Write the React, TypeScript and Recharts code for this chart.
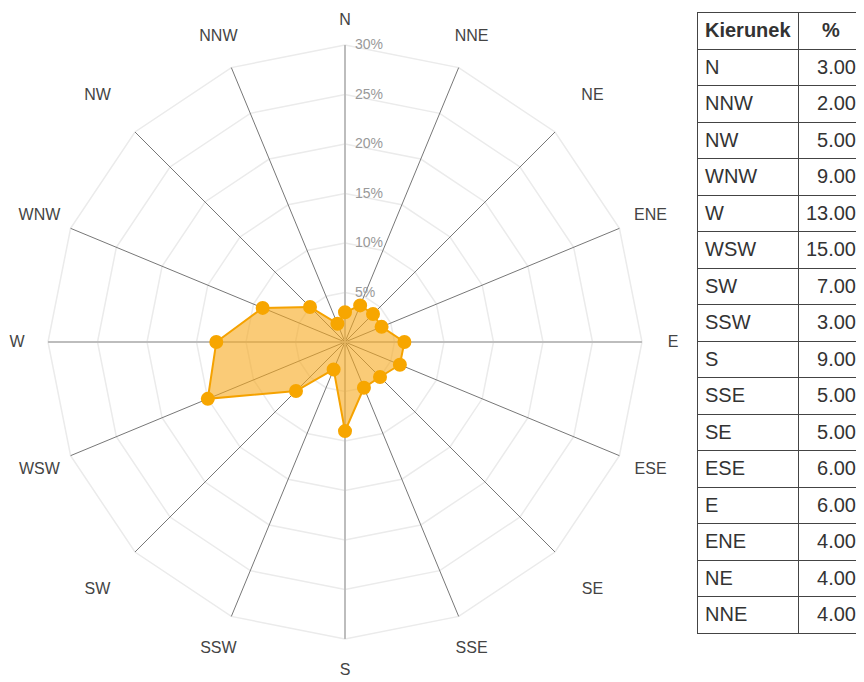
import { RadarChart, Radar, PolarGrid, PolarAngleAxis, PolarRadiusAxis } from 'recharts'

// wind directions, clockwise from north (chart order)
const directions = ['N', 'NNE', 'NE', 'ENE', 'E', 'ESE', 'SE', 'SSE', 'S', 'SSW', 'SW', 'WSW', 'W', 'WNW', 'NW', 'NNW']
const frequency = [3, 4, 4, 4, 6, 6, 5, 5, 9, 3, 7, 15, 13, 9, 5, 2]
const radiusDomain = [0, 30]

const chartData = directions.map((dir, i) => ({ dir, value: frequency[i] }))

// table lists N first, then counter-clockwise
const tableRows = [chartData[0], ...chartData.slice(1).reverse()]

const CX = 337
const CY = 334
const OUTER = 297
const FONT = 'Arial, "Liberation Sans", sans-serif'

const step = 360 / directions.length
const cardinalAngles = directions.map((_, i) => 90 - i * step).filter((_, i) => i % 4 === 0)
const otherAngles = directions.map((_, i) => 90 - i * step).filter((_, i) => i % 4 !== 0)

const AngleTick = (props: any) => {
  const { x, y, payload } = props
  const dx = x - CX
  const dy = y - CY
  const d = Math.sqrt(dx * dx + dy * dy) || 1
  const theta = Math.atan2(dy, dx)
  // diagonal labels sit a little further out
  const r = 328 + 22 * Math.pow(Math.abs(Math.sin(2 * theta)), 6)
  const ty = Math.max(CY + (dy / d) * r + 5, 17)
  return (
    <text
      x={CX + (dx / d) * r}
      y={ty}
      textAnchor="middle"
      fontSize={16}
      fill="#444"
      fontFamily={FONT}
    >
      {payload.value}
    </text>
  )
}

const RadiusTick = (props: any) => {
  const { x, y, payload } = props
  if (payload.value === 0) return null
  return (
    <text x={x + 10} y={y + 4} fontSize={14} fill="#999" fontFamily={FONT}>
      {`${payload.value}%`}
    </text>
  )
}

export default function App() {
  return (
    <div style={{ position: 'relative', width: 856, height: 674, overflow: 'hidden', background: '#fff' }}>
      <RadarChart
        width={690}
        height={674}
        data={chartData}
        cx={CX}
        cy={CY}
        outerRadius={OUTER}
        startAngle={90}
        endAngle={-270}
        style={{ position: 'absolute', left: 0, top: 0, overflow: 'visible' }}
      >
        {/* concentric polygons */}
        <PolarGrid gridType="polygon" radialLines={false} stroke="#ebebeb" strokeWidth={1.5} />
        {/* radial lines */}
        <PolarGrid gridType="polygon" polarRadius={[]} polarAngles={otherAngles} stroke="#777" strokeWidth={1} />
        <PolarGrid gridType="polygon" polarRadius={[]} polarAngles={cardinalAngles} stroke="#bdbdbd" strokeWidth={2} />
        <PolarAngleAxis dataKey="dir" axisLine={false} tickLine={false} tick={<AngleTick />} />
        <Radar
          dataKey="value"
          stroke="#f5a200"
          strokeWidth={2}
          fill="#f7a81c"
          fillOpacity={0.6}
          dot={{ r: 6, fill: '#f7a600', stroke: '#f7a600', fillOpacity: 1 }}
          isAnimationActive={false}
        />
        <PolarRadiusAxis
          angle={90}
          domain={radiusDomain}
          tickCount={7}
          axisLine={false}
          tickLine={false}
          tick={<RadiusTick />}
        />
      </RadarChart>
      <table
        style={{
          position: 'absolute',
          left: 689,
          top: 4,
          borderCollapse: 'collapse',
          fontFamily: FONT,
          fontSize: 20,
          color: '#333',
          tableLayout: 'fixed',
        }}
      >
        <colgroup>
          <col style={{ width: 106 }} />
          <col style={{ width: 66 }} />
        </colgroup>
        <thead>
          <tr style={{ height: 36.5 }}>
            <th style={{ border: '1px solid #444', textAlign: 'left', padding: '0 7px', fontWeight: 'bold' }}>Kierunek</th>
            <th style={{ border: '1px solid #444', textAlign: 'center', padding: '0 7px', fontWeight: 'bold' }}>%</th>
          </tr>
        </thead>
        <tbody>
          {tableRows.map((row) => (
            <tr key={row.dir} style={{ height: 36.5 }}>
              <td style={{ border: '1px solid #444', padding: '0 7px' }}>{row.dir}</td>
              <td style={{ border: '1px solid #444', padding: '0 7px', textAlign: 'right' }}>{row.value.toFixed(2)}</td>
            </tr>
          ))}
        </tbody>
      </table>
    </div>
  )
}
